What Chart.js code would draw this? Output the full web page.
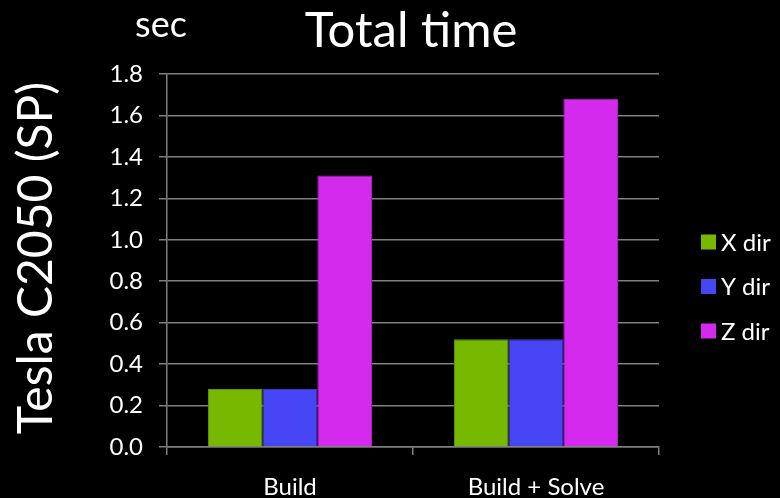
<!DOCTYPE html>
<html>
<head>
<meta charset="utf-8">
<script src="https://cdn.jsdelivr.net/npm/chart.js@4.4.1/dist/chart.umd.min.js"></script>
<style>
  html, body { margin: 0; padding: 0; background: #000; }
  #wrap { width: 780px; height: 498px; position: relative; }
</style>
</head>
<body>
<div id="wrap"><canvas id="c"></canvas></div>
<script>
// Total time on Tesla C2050 (single precision), seconds
const categories = ['Build', 'Build + Solve'];
const xDir = [0.28, 0.52];
const yDir = [0.28, 0.52];
const zDir = [1.31, 1.68];
const seriesNames = ['X dir', 'Y dir', 'Z dir'];
const seriesColors = ['#76b900', '#4646f4', '#d42aee'];
const yTicks = [0, 0.2, 0.4, 0.6, 0.8, 1.0, 1.2, 1.4, 1.6, 1.8];

const FONT = 'Lato, "Open Sans", sans-serif';
const GRID = '#7f7f7f';

// Title, unit label, vertical side label and legend
const decorations = {
  id: 'decorations',
  afterDraw(chart) {
    const ctx = chart.ctx;
    ctx.save();
    ctx.fillStyle = '#ffffff';

    ctx.textAlign = 'center';
    ctx.textBaseline = 'alphabetic';
    ctx.font = '49px ' + FONT;
    ctx.fillText('Total time', 411, 47);

    ctx.font = '36px ' + FONT;
    ctx.fillText('sec', 161, 37);

    ctx.save();
    ctx.translate(52, 258);
    ctx.rotate(-Math.PI / 2);
    ctx.font = '48px ' + FONT;
    ctx.fillText('Tesla C2050 (SP)', 0, 0);
    ctx.restore();

    ctx.textAlign = 'left';
    ctx.textBaseline = 'middle';
    ctx.font = '24px ' + FONT;
    chart.data.datasets.forEach((ds, i) => {
      const cy = 242 + i * 44.5;
      ctx.fillStyle = ds.backgroundColor;
      ctx.fillRect(701, cy - 7.5, 15, 15);
      ctx.fillStyle = '#ffffff';
      ctx.fillText(ds.label, 721, cy + 1);
    });
    ctx.restore();
  }
};

new Chart(document.getElementById('c'), {
  type: 'bar',
  data: {
    labels: categories,
    datasets: [
      { label: seriesNames[0], data: xDir, backgroundColor: seriesColors[0], borderColor: '#5f9600', borderWidth: 1 },
      { label: seriesNames[1], data: yDir, backgroundColor: seriesColors[1], borderColor: '#3a3ad0', borderWidth: 1 },
      { label: seriesNames[2], data: zDir, backgroundColor: seriesColors[2], borderColor: '#b020c8', borderWidth: 1 }
    ]
  },
  options: {
    responsive: true,
    maintainAspectRatio: false,
    animation: false,
    layout: { padding: { top: 74, right: 121, left: 0, bottom: 0 } },
    plugins: {
      legend: { display: false },
      title: { display: false },
      tooltip: { enabled: false }
    },
    datasets: {
      bar: { categoryPercentage: 0.667, barPercentage: 1.0 }
    },
    scales: {
      x: {
        afterFit(scale) { scale.height = 51; },
        grid: {
          display: true, offset: true, drawOnChartArea: false, drawTicks: true,
          tickLength: 8, color: GRID, lineWidth: 1.5
        },
        border: { display: true, color: GRID, width: 1.5 },
        ticks: { color: '#ffffff', font: { family: FONT, size: 24 }, padding: 18 }
      },
      y: {
        min: 0,
        max: 1.8,
        afterFit(scale) { scale.width = 167; },
        afterBuildTicks(scale) { scale.ticks = yTicks.map(v => ({ value: v })); },
        grid: { color: GRID, lineWidth: 1.5, tickLength: 8 },
        border: { display: true, color: GRID, width: 1.5 },
        ticks: {
          color: '#ffffff',
          font: { family: FONT, size: 24 },
          padding: 16,
          callback: v => Number(v).toFixed(1)
        }
      }
    }
  },
  plugins: [decorations]
});
</script>
</body>
</html>
